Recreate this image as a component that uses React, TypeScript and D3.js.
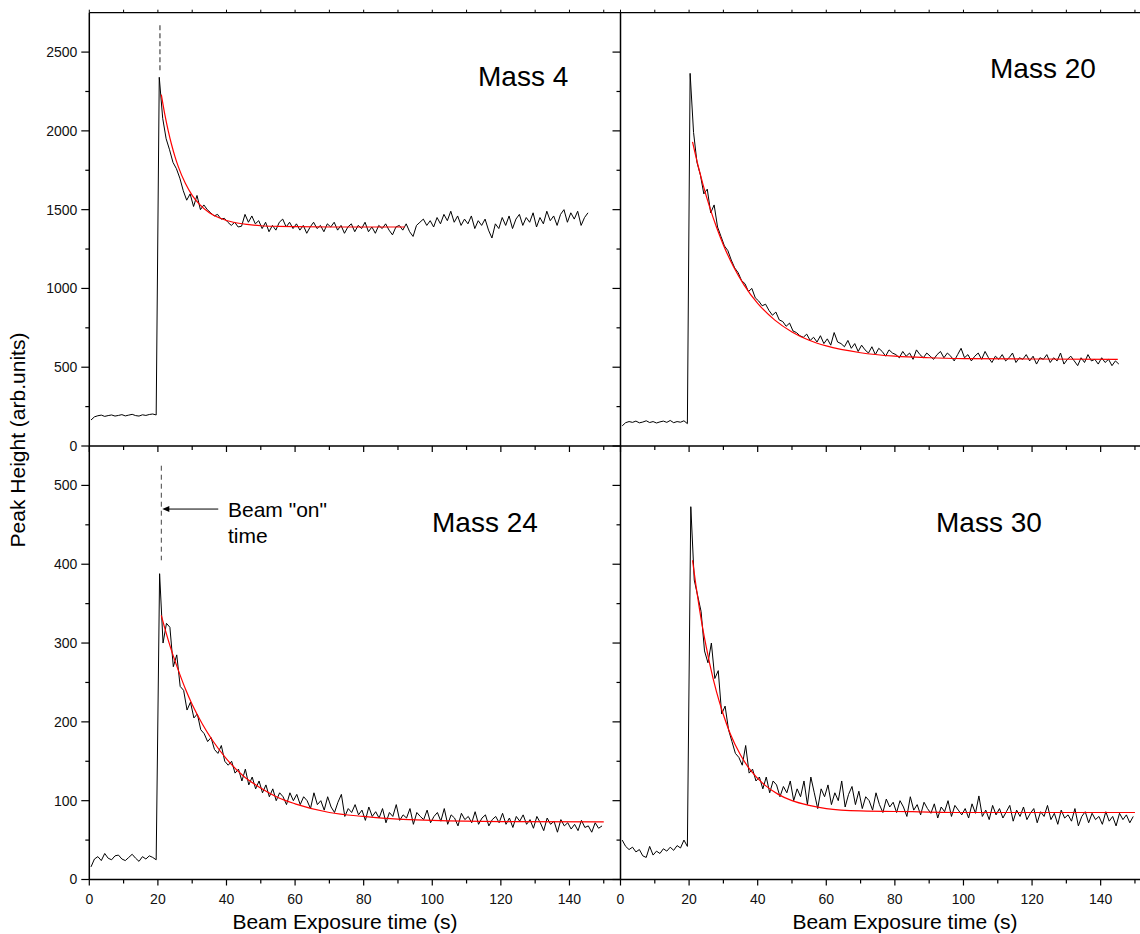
import React from 'react';
import * as d3 from 'd3';

// Mass 4 (top left): baseline before the beam, then the signal after beam "on"
const m4Pre = [165, 185, 192, 196, 188, 193, 197, 190, 194, 199, 191, 196, 201, 193, 190, 198, 194, 200, 203, 197];
const m4Post = [
  2340, 2080, 1950, 1880, 1800, 1760, 1700, 1620, 1560, 1600,
  1520, 1590, 1500, 1530, 1500, 1480, 1460, 1470, 1440, 1445,
  1420, 1400, 1420, 1390, 1395, 1470, 1420, 1460, 1410, 1430,
  1380, 1420, 1360, 1400, 1370, 1420, 1440, 1390, 1420, 1380,
  1410, 1370, 1400, 1350, 1390, 1420, 1380, 1400, 1360, 1410,
  1390, 1420, 1370, 1400, 1350, 1390, 1410, 1360, 1400, 1380,
  1420, 1360, 1390, 1350, 1400, 1380, 1410, 1370, 1340, 1390,
  1400, 1370, 1410, 1360, 1330, 1400, 1420, 1440, 1400, 1430,
  1390, 1450, 1410, 1470, 1430, 1490, 1420, 1460, 1400, 1440,
  1410, 1460, 1380, 1430, 1400, 1440, 1370, 1320, 1410, 1380,
  1450, 1400, 1460, 1380, 1440, 1470, 1400, 1450, 1420, 1480,
  1390, 1450, 1410, 1490, 1430, 1460, 1400, 1470, 1500, 1420,
  1480, 1440, 1490, 1400, 1450, 1480,
];
const m4FitT = [21, 22, 23, 24, 25, 26, 28, 30, 32, 35, 38, 42, 46, 50, 55, 60, 70, 80, 92];
const m4FitV = [2230, 2106, 2002, 1912, 1835, 1770, 1667, 1591, 1537, 1481, 1447, 1420, 1406, 1398, 1394, 1392, 1390, 1390, 1390];

// Mass 20 (top right)
const m20Pre = [128, 148, 155, 150, 158, 147, 152, 160, 149, 155, 146, 153, 158, 150, 162, 148, 155, 151, 160, 142];
const m20Post = [
  2365, 1990, 1800, 1720, 1600, 1630, 1480, 1530, 1390, 1330,
  1270, 1240, 1180, 1130, 1100, 1050, 1030, 980, 1000, 940,
  920, 890, 900, 860, 830, 850, 800, 790, 760, 780,
  730, 720, 700, 690, 710, 670, 690, 660, 700, 650,
  680, 640, 720, 660, 650, 630, 670, 620, 650, 600,
  640, 610, 590, 630, 580, 620, 600, 570, 610, 590,
  580, 560, 600, 570, 590, 550, 610, 580, 560, 590,
  570, 550, 580, 600, 560, 590, 570, 540, 580, 620,
  560, 580, 540, 570, 590, 550, 600, 560, 530, 570,
  550, 580, 540, 560, 590, 530, 560, 550, 580, 540,
  570, 520, 560, 550, 580, 530, 560, 540, 590, 520,
  550, 570, 540, 510, 560, 530, 580, 540, 550, 520,
  560, 530, 550, 510, 540, 520,
];
const m20FitT = [21, 22, 23, 24, 26, 28, 30, 33, 36, 40, 45, 50, 55, 60, 70, 80, 90, 100, 120, 145];
const m20FitV = [1930, 1835, 1747, 1664, 1516, 1388, 1276, 1136, 1023, 905, 799, 724, 671, 635, 592, 570, 560, 555, 552, 550];

// Mass 24 (bottom left)
const m24Pre = [16, 26, 29, 24, 33, 27, 25, 30, 31, 26, 24, 28, 32, 27, 23, 29, 26, 30, 28, 25];
const m24Post = [
  388, 300, 325, 320, 270, 285, 245, 240, 215, 225,
  205, 210, 190, 185, 175, 180, 165, 160, 170, 150,
  145, 150, 135, 140, 125, 140, 120, 130, 115, 125,
  110, 120, 105, 115, 100, 110, 105, 95, 110, 100,
  108, 95, 105, 100, 90, 110, 95, 100, 88, 105,
  92, 85, 98, 108, 80, 90, 85, 95, 82, 88,
  75, 92, 80, 86, 78, 90, 72, 85, 80, 95,
  75, 82, 78, 90, 70, 85, 80, 76, 88, 72,
  80, 85, 74, 90, 70, 82, 78, 68, 84, 76,
  80, 72, 86, 70, 78, 82, 68, 76, 80, 72,
  84, 70, 78, 66, 80, 74, 82, 70, 76, 65,
  80, 72, 62, 78, 70, 74, 60, 76, 68, 72,
  64, 70, 62, 75, 66, 68, 60, 72, 65, 68,
];
const m24FitT = [21, 22, 23, 24, 26, 28, 30, 33, 36, 40, 45, 50, 55, 60, 70, 80, 90, 100, 120, 150];
const m24FitV = [335, 319, 304, 290, 265, 242, 222, 197, 176, 153, 131, 116, 104, 96, 85, 80, 76.5, 75, 73.5, 73];

// Mass 30 (bottom right)
const m30Pre = [50, 42, 38, 41, 35, 38, 30, 28, 42, 31, 36, 33, 39, 36, 41, 37, 43, 40, 50, 42];
const m30Post = [
  473, 380, 360, 340, 290, 275, 300, 255, 265, 210,
  220, 190, 175, 160, 155, 145, 170, 135, 140, 125,
  130, 115, 130, 110, 125, 120, 105, 118, 110, 125,
  100, 115, 105, 125, 95, 130, 110, 90, 115, 105,
  120, 95, 110, 100, 125, 92, 108, 118, 95, 112,
  90, 105, 100, 88, 110, 95, 85, 102, 92, 98,
  85, 100, 92, 80, 105, 88, 95, 82, 98, 90,
  84, 96, 78, 92, 86, 100, 80, 94, 88, 82,
  90, 78, 96, 84, 106, 80, 88, 76, 94, 82,
  90, 78, 86, 94, 74, 88, 80, 92, 76, 84,
  90, 72, 86, 80, 94, 76, 84, 70, 88, 78,
  82, 74, 90, 68, 80, 86, 72, 84, 76, 80,
  70, 86, 74, 80, 68, 84, 76, 82, 72, 80,
];
const m30FitT = [21, 22, 23, 24, 25, 26, 28, 30, 32, 35, 38, 42, 46, 50, 55, 60, 70, 85, 100, 150];
const m30FitV = [405, 373, 344, 318, 295, 274, 238, 209, 185, 158, 138, 120, 108, 100, 94, 90, 87, 86, 85, 85];

// ticks
const xMajor = [0, 20, 40, 60, 80, 100, 120, 140];
const xMinor = [10, 30, 50, 70, 90, 110, 130, 150];
const xTopTicks = [0, 10, 20, 30, 40, 50, 60, 70, 80, 90, 100, 110, 120, 130, 140, 150];
const yTopMajor = [0, 500, 1000, 1500, 2000, 2500];
const yTopMinor = [250, 750, 1250, 1750, 2250];
const yBotMajor = [0, 100, 200, 300, 400, 500];
const yBotMinor = [50, 150, 250, 350, 450];

const FONT = '"Liberation Sans", Arial, Helvetica, sans-serif';

const xL = d3.scaleLinear().domain([0, 155]).range([89.3, 620.9]);
const xR = d3.scaleLinear().domain([0, 155]).range([620.5, 1152.1]);
const yTop = d3.scaleLinear().domain([0, 2750]).range([446, 12.7]);
const yBot = d3.scaleLinear().domain([0, 550]).range([879.5, 446]);

type Panel = {
  label: string;
  x: d3.ScaleLinear<number, number>;
  y: d3.ScaleLinear<number, number>;
  top: boolean;
  left: boolean;
  pre: number[];
  post: number[];
  postStart: number;
  fitT: number[];
  fitV: number[];
  labelX: number;
  labelY: number;
};

const panels: Panel[] = [
  { label: 'Mass 4', x: xL, y: yTop, top: true, left: true, pre: m4Pre, post: m4Post, postStart: 20.4, fitT: m4FitT, fitV: m4FitV, labelX: 478, labelY: 86 },
  { label: 'Mass 20', x: xR, y: yTop, top: true, left: false, pre: m20Pre, post: m20Post, postStart: 20.3, fitT: m20FitT, fitV: m20FitV, labelX: 990, labelY: 78 },
  { label: 'Mass 24', x: xL, y: yBot, top: false, left: true, pre: m24Pre, post: m24Post, postStart: 20.5, fitT: m24FitT, fitV: m24FitV, labelX: 432, labelY: 532 },
  { label: 'Mass 30', x: xR, y: yBot, top: false, left: false, pre: m30Pre, post: m30Post, postStart: 20.5, fitT: m30FitT, fitV: m30FitV, labelX: 936, labelY: 532 },
];

const PanelView = ({ p }: { p: Panel }) => {
  const { x, y } = p;
  const pts: [number, number][] = [
    ...p.pre.map((v, i) => [0.5 + i, v] as [number, number]),
    ...p.post.map((v, i) => [p.postStart + i, v] as [number, number]),
  ];
  const dataLine = d3.line<[number, number]>().x(d => x(d[0])).y(d => y(d[1]));
  const fitLine = d3.line<number>().x(d => x(d)).y((d, i) => y(p.fitV[i])).curve(d3.curveMonotoneX);
  const x0 = x.range()[0];
  const x1 = x.range()[1];
  const yb = y.range()[0];
  const yt = y.range()[1];
  const yMajor = p.top ? yTopMajor : yBotMajor;
  const yMinor = p.top ? yTopMinor : yBotMinor;
  return (
    <g>
      <path d={dataLine(pts) || ''} fill="none" stroke="#000" strokeWidth={1} strokeLinejoin="round" />
      <path d={fitLine(p.fitT) || ''} fill="none" stroke="#ff0000" strokeWidth={1.2} />
      {/* y axis */}
      <line x1={x0} x2={x0} y1={yt} y2={yb} stroke="#000" strokeWidth={1.5} />
      {yMajor.map(v => (
        <line key={'ym' + v} x1={x0 - 8} x2={x0} y1={y(v)} y2={y(v)} stroke="#000" strokeWidth={1.2} />
      ))}
      {yMinor.map(v => (
        <line key={'yn' + v} x1={x0 - 4} x2={x0} y1={y(v)} y2={y(v)} stroke="#000" strokeWidth={1.2} />
      ))}
      {p.left && yMajor.map(v => (
        <text key={'yl' + v} x={x0 - 12} y={y(v)} dy="0.35em" textAnchor="end" fontSize={14} fontFamily={FONT} fill="#111">{v}</text>
      ))}
      {/* bottom axis */}
      <line x1={x0} x2={x1} y1={yb} y2={yb} stroke="#000" strokeWidth={1.5} />
      {xMajor.map(v => (
        <line key={'xm' + v} x1={x(v)} x2={x(v)} y1={yb} y2={yb + 6} stroke="#000" strokeWidth={1.2} />
      ))}
      {xMinor.map(v => (
        <line key={'xn' + v} x1={x(v)} x2={x(v)} y1={yb} y2={yb + 4} stroke="#000" strokeWidth={1.2} />
      ))}
      {!p.top && xMajor.map(v => (
        <text key={'xl' + v} x={x(v)} y={yb + 24} textAnchor="middle" fontSize={14} fontFamily={FONT} fill="#111">{v}</text>
      ))}
      {/* top axis */}
      {p.top && (
        <g>
          <line x1={x0} x2={x1} y1={yt} y2={yt} stroke="#000" strokeWidth={1.2} />
          {xTopTicks.map(v => (
            <line key={'xt' + v} x1={x(v)} x2={x(v)} y1={yt - 3} y2={yt} stroke="#000" strokeWidth={1} />
          ))}
        </g>
      )}
      <text x={p.labelX} y={p.labelY} fontSize={28} fontFamily={FONT} fill="#000">{p.label}</text>
    </g>
  );
};

// beam-on marker
const beamTopT = 20.6;
const beamTopV = [2670, 2385];
const beamBotT = 21;
const beamBotV = [525, 405];
const arrowV = 470;
const arrowFromT = 37.6;

export default function App() {
  return (
    <svg width={1140} height={934} style={{ position: 'absolute', left: 0, top: 0, display: 'block', background: '#fff' }}>
      <rect x={0} y={0} width={1140} height={934} fill="#fff" />
      {panels.map(p => <PanelView key={p.label} p={p} />)}
      <line x1={xL(beamTopT)} x2={xL(beamTopT)} y1={yTop(beamTopV[0])} y2={yTop(beamTopV[1])} stroke="#555" strokeWidth={1.3} strokeDasharray="5,3" />
      <line x1={xL(beamBotT)} x2={xL(beamBotT)} y1={yBot(beamBotV[0])} y2={yBot(beamBotV[1])} stroke="#444" strokeWidth={1} strokeDasharray="5,4" />
      <line x1={xL(arrowFromT)} x2={xL(beamBotT) + 6} y1={yBot(arrowV)} y2={yBot(arrowV)} stroke="#000" strokeWidth={1} />
      <path
        d={`M${xL(beamBotT) + 1},${yBot(arrowV)} L${xL(beamBotT) + 8},${yBot(arrowV) - 3} L${xL(beamBotT) + 8},${yBot(arrowV) + 3} Z`}
        fill="#000"
      />
      <text x={228} y={517} fontSize={21} fontFamily={FONT} fill="#000">Beam "on"</text>
      <text x={228} y={543} fontSize={21} fontFamily={FONT} fill="#000">time</text>
      <text x={345} y={929} textAnchor="middle" fontSize={21} fontFamily={FONT} fill="#000">Beam Exposure time (s)</text>
      <text x={905} y={929} textAnchor="middle" fontSize={21} fontFamily={FONT} fill="#000">Beam Exposure time (s)</text>
      <text transform="translate(25,440) rotate(-90)" textAnchor="middle" fontSize={21} fontFamily={FONT} fill="#000">Peak Height (arb.units)</text>
    </svg>
  );
}
